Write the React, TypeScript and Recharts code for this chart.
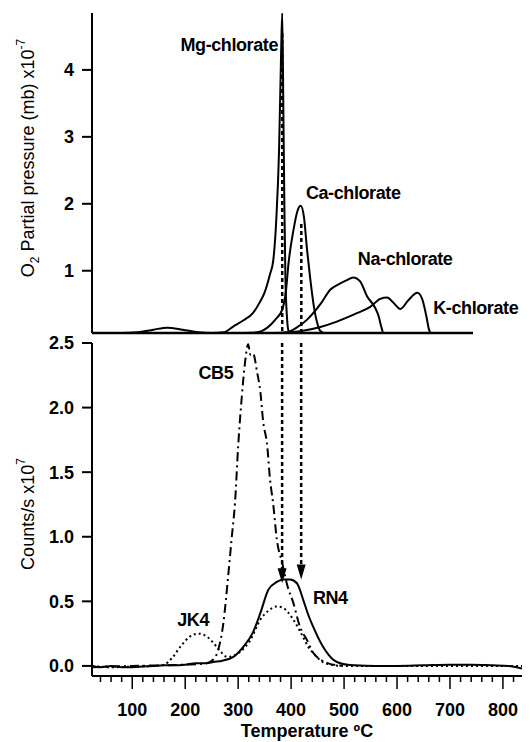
import {
  Line,
  LineChart,
  ReferenceDot,
  ReferenceLine,
  XAxis,
  YAxis,
} from "recharts";

// temperature (°C), O2 partial pressure (x1e-7 mb)
const mgChlorate: [number, number][] = [
  [24, 0.07], [80, 0.07], [110, 0.08], [140, 0.12], [166, 0.15], [195, 0.12],
  [225, 0.08], [250, 0.07], [272, 0.08], [291, 0.17], [310, 0.26], [328, 0.37],
  [340, 0.52], [350, 0.68], [360, 0.95], [366, 1.15], [372, 1.8], [377, 2.8],
  [381, 4.3], [383, 4.85], [385, 3.5], [387, 2.0], [389, 0.9], [392, 0.3],
  [395, 0.1], [400, 0.07], [420, 0.07],
];
const caChlorate: [number, number][] = [
  [300, 0.07], [336, 0.08], [355, 0.15], [370, 0.27], [383, 0.42], [390, 0.7],
  [395, 1.12], [404, 1.6], [412, 1.9], [418, 1.97], [424, 1.8], [430, 1.3],
  [436, 0.87], [443, 0.45], [449, 0.22], [455, 0.1], [462, 0.07], [480, 0.07],
];
const naChlorate: [number, number][] = [
  [370, 0.07], [392, 0.08], [410, 0.15], [430, 0.27], [455, 0.5], [474, 0.72],
  [490, 0.8], [505, 0.86], [517, 0.9], [530, 0.84], [543, 0.62], [558, 0.45],
  [565, 0.32], [570, 0.16], [574, 0.07], [600, 0.07],
];
const kChlorate: [number, number][] = [
  [380, 0.07], [420, 0.1], [455, 0.16], [486, 0.24], [525, 0.37], [549, 0.46],
  [568, 0.58], [581, 0.6], [592, 0.53], [606, 0.43], [621, 0.56], [638, 0.67],
  [647, 0.58], [655, 0.32], [660, 0.12], [664, 0.07], [700, 0.07],
];

// temperature (°C), counts/s (x1e7)
const rn4: [number, number][] = [
  [24, 0.0], [40, -0.01], [60, 0.0], [80, -0.01], [100, -0.01], [120, -0.005],
  [140, 0.0], [160, 0.005], [180, 0.005], [200, 0.01], [220, 0.02], [240, 0.02],
  [253, 0.03], [270, 0.04], [291, 0.07], [310, 0.15], [328, 0.26], [342, 0.41],
  [357, 0.59], [373, 0.65], [385, 0.67], [398, 0.67], [411, 0.64], [423, 0.51],
  [432, 0.4], [442, 0.3], [460, 0.15], [479, 0.05], [498, 0.015], [520, 0.005],
  [560, 0.0], [600, 0.0], [650, 0.005], [700, 0.01], [740, 0.01], [780, 0.005],
  [810, 0.0], [836, -0.02],
];
const jk4: [number, number][] = [
  [24, 0.0], [60, -0.01], [100, -0.005], [140, 0.0], [160, 0.01], [175, 0.06],
  [191, 0.15], [210, 0.23], [225, 0.25], [240, 0.23], [253, 0.18], [265, 0.12],
  [279, 0.07], [292, 0.08], [304, 0.11], [323, 0.2], [342, 0.36], [358, 0.43],
  [372, 0.46], [385, 0.45], [395, 0.41], [404, 0.36], [414, 0.29], [423, 0.22],
  [432, 0.15], [442, 0.1], [451, 0.06], [460, 0.03], [475, 0.01], [500, 0.0],
  [836, 0.0],
];
const cb5: [number, number][] = [
  [24, -0.01], [100, 0.0], [200, 0.01], [240, 0.02], [253, 0.05], [262, 0.12],
  [272, 0.33], [281, 0.69], [288, 1.0], [294, 1.26], [300, 1.7], [307, 2.09],
  [313, 2.35], [319, 2.49], [323, 2.41], [328, 2.42], [336, 2.27], [342, 2.12],
  [347, 1.9], [355, 1.7], [360, 1.45], [366, 1.26], [373, 0.98], [383, 0.8],
  [393, 0.62], [404, 0.49], [417, 0.3], [430, 0.2], [442, 0.1], [455, 0.05],
  [470, 0.02], [500, 0.0],
];

const topTicks = [1, 2, 3, 4];
const bottomTicks = [0, 0.5, 1.0, 1.5, 2.0, 2.5];
const tempTicks = [
  40, 60, 80, 100, 120, 140, 160, 180, 200, 220, 240, 260, 280, 300, 320, 340,
  360, 380, 400, 420, 440, 460, 480, 500, 520, 540, 560, 580, 600, 620, 640,
  660, 680, 700, 720, 740, 760, 780, 800, 820,
];
// peak temperatures marked by the arrows
const mgPeak = 383;
const caPeak = 419;

const FONT = "'Liberation Sans', Arial, sans-serif";
const pts = (arr: [number, number][]) => arr.map(([t, v]) => ({ t, v }));

function TempTick({ x, y, payload }: any) {
  const major = payload.value % 100 === 0;
  return (
    <g>
      <line x1={x} x2={x} y1={y} y2={y + (major ? 13 : 6)} stroke="#000" strokeWidth={1.5} />
      {major && (
        <text x={x} y={y + 40} textAnchor="middle" fontSize={18} fontWeight="bold" fontFamily={FONT} fill="#000">
          {payload.value}
        </text>
      )}
    </g>
  );
}

function textShape(text: string, anchor: "start" | "middle" = "middle") {
  return ({ cx, cy }: any) => (
    <text x={cx} y={cy} dy="0.35em" textAnchor={anchor} fontSize={18} fontWeight="bold"
      fontFamily={FONT} fill="#000" letterSpacing={-0.4}>
      {text}
    </text>
  );
}

function arrowHead({ cx, cy }: any) {
  return <polygon points={`${cx - 4.5},${cy - 15} ${cx + 4.5},${cy - 15} ${cx},${cy}`} fill="#000" />;
}

const tickStyle = { fill: "#000", fontSize: 18, fontWeight: "bold", fontFamily: FONT };

export default function App() {
  return (
    <div style={{ position: "absolute", left: 0, top: 0, width: 530, height: 742, background: "#fff", overflow: "hidden" }}>
      <div style={{ position: "absolute", left: 0, top: 0 }}>
        <LineChart width={530} height={742} margin={{ top: 343, right: 8, bottom: 0, left: 0 }}>
          <XAxis
            dataKey="t"
            type="number"
            domain={[24, 836]}
            allowDataOverflow
            ticks={tempTicks}
            interval={0}
            tick={<TempTick />}
            tickLine={false}
            tickSize={0}
            tickMargin={0}
            height={66}
            axisLine={{ stroke: "#000", strokeWidth: 2 }}
          />
          <YAxis
            type="number"
            domain={[-0.078, 2.5]}
            allowDataOverflow
            ticks={bottomTicks}
            tickFormatter={(v: number) => v.toFixed(1)}
            width={92}
            tick={tickStyle}
            tickSize={10}
            tickMargin={8}
            tickLine={{ stroke: "#000", strokeWidth: 2 }}
            axisLine={{ stroke: "#000", strokeWidth: 2 }}
            label={() => (
              <text transform="translate(34, 514) rotate(-90)" textAnchor="middle" fontSize={18} fontFamily={FONT} fill="#000">
                Counts/s x10<tspan fontSize={12} dy={-9}>7</tspan>
              </text>
            )}
          />
          <ReferenceLine segment={[{ x: mgPeak, y: 2.5 }, { x: mgPeak, y: 0.74 }]} stroke="#000" strokeWidth={2.5} strokeDasharray="4 3" ifOverflow="visible" />
          <ReferenceLine segment={[{ x: caPeak, y: 2.5 }, { x: caPeak, y: 0.78 }]} stroke="#000" strokeWidth={2.5} strokeDasharray="4 3" ifOverflow="visible" />
          <Line data={pts(jk4)} dataKey="v" type="monotone" stroke="#000" strokeWidth={2} strokeDasharray="2 3" dot={false} isAnimationActive={false} />
          <Line data={pts(cb5)} dataKey="v" type="monotone" stroke="#000" strokeWidth={2} strokeDasharray="9 4 2 4" dot={false} isAnimationActive={false} />
          <Line data={pts(rn4)} dataKey="v" type="monotone" stroke="#000" strokeWidth={2} dot={false} isAnimationActive={false} />
          <ReferenceDot x={mgPeak} y={0.64} r={0} shape={arrowHead} />
          <ReferenceDot x={caPeak} y={0.67} r={0} shape={arrowHead} />
          <ReferenceDot x={258} y={2.27} r={0} shape={textShape("CB5")} />
          <ReferenceDot x={215} y={0.36} r={0} shape={textShape("JK4")} />
          <ReferenceDot x={474} y={0.53} r={0} shape={textShape("RN4")} />
        </LineChart>
        <div style={{ position: "absolute", left: 307, top: 721, transform: "translateX(-50%)", whiteSpace: "nowrap", fontFamily: FONT, fontWeight: "bold", fontSize: 18, lineHeight: "20px" }}>
          Temperature ºC
        </div>
      </div>
      <div style={{ position: "absolute", left: 0, top: 0 }}>
        <LineChart width={530} height={345} margin={{ top: 13, right: 57, bottom: 11, left: 0 }}>
          <XAxis
            dataKey="t"
            type="number"
            domain={[24, 743]}
            allowDataOverflow
            tick={false}
            tickLine={false}
            height={1}
            axisLine={{ stroke: "#000", strokeWidth: 2.5 }}
          />
          <YAxis
            type="number"
            domain={[0.07, 4.85]}
            allowDataOverflow
            ticks={topTicks}
            width={92}
            tick={tickStyle}
            tickSize={10}
            tickMargin={8}
            tickLine={{ stroke: "#000", strokeWidth: 2 }}
            axisLine={{ stroke: "#000", strokeWidth: 2 }}
            label={() => (
              <text transform="translate(34, 158) rotate(-90)" textAnchor="middle" fontSize={18} fontFamily={FONT} fill="#000">
                O<tspan fontSize={12} dy={5}>2</tspan>
                <tspan dy={-5}> Partial pressure (mb) x10</tspan>
                <tspan fontSize={12} dy={-9}>-7</tspan>
              </text>
            )}
          />
          <ReferenceLine segment={[{ x: mgPeak, y: 4.55 }, { x: mgPeak, y: 0.07 }]} stroke="#000" strokeWidth={2.5} strokeDasharray="4 3" ifOverflow="visible" />
          <ReferenceLine segment={[{ x: caPeak, y: 1.7 }, { x: caPeak, y: 0.07 }]} stroke="#000" strokeWidth={2.5} strokeDasharray="4 3" ifOverflow="visible" />
          <Line data={pts(mgChlorate)} dataKey="v" type="monotone" stroke="#000" strokeWidth={2} dot={false} isAnimationActive={false} />
          <Line data={pts(caChlorate)} dataKey="v" type="monotone" stroke="#000" strokeWidth={2} dot={false} isAnimationActive={false} />
          <Line data={pts(naChlorate)} dataKey="v" type="monotone" stroke="#000" strokeWidth={2} dot={false} isAnimationActive={false} />
          <Line data={pts(kChlorate)} dataKey="v" type="monotone" stroke="#000" strokeWidth={2} dot={false} isAnimationActive={false} />
          <ReferenceDot x={283} y={4.37} r={0} shape={textShape("Mg-chlorate")} />
          <ReferenceDot x={517} y={2.16} r={0} shape={textShape("Ca-chlorate")} />
          <ReferenceDot x={615} y={1.18} r={0} shape={textShape("Na-chlorate")} />
          <ReferenceDot x={668} y={0.45} r={0} shape={textShape("K-chlorate", "start")} ifOverflow="visible" />
        </LineChart>
      </div>
    </div>
  );
}
